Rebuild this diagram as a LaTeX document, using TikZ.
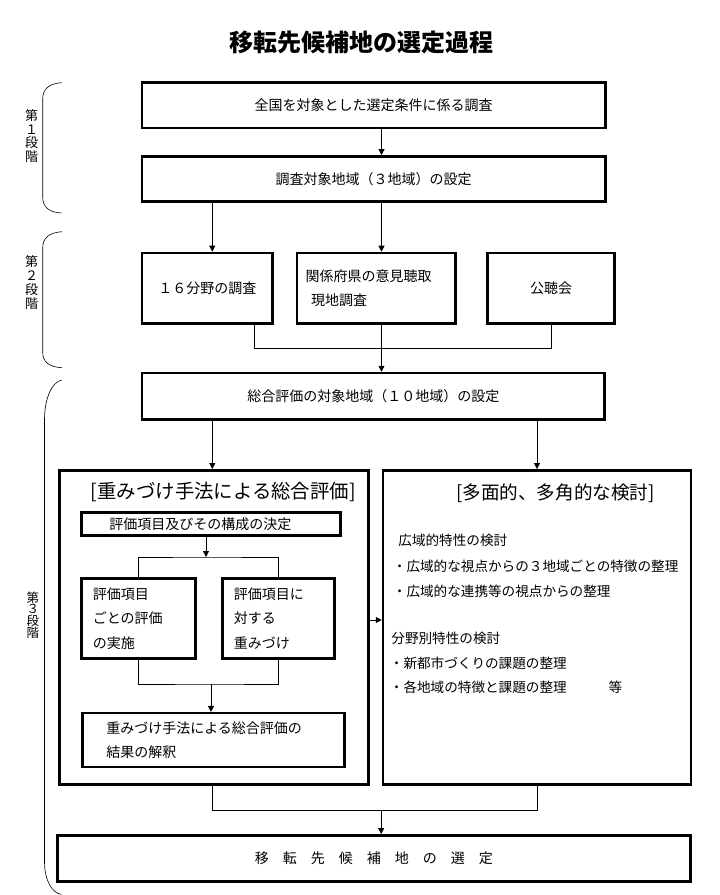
\documentclass[tikz,border=0pt]{standalone}
\usepackage{fontspec}
\setmainfont{Noto Sans CJK JP}
\usetikzlibrary{arrows.meta}
\tikzset{
	box/.style = {draw, line width=2.5pt, inner sep=0pt, align=center, font=\fontsize{14}{14}\selectfont},
	lbox/.style = {box, align=left},
	bigbox/.style = {draw, line width=2.5pt, inner sep=0pt},
	stage/.style = {align=center, inner sep=0pt, font=\fontsize{13}{13.8}\selectfont},
	bracket/.style = {line width=0.6pt},
	item/.style = {anchor=west, inner sep=0pt, font=\fontsize{13.6}{13.6}\selectfont}
}
\begin{document}
\begin{tikzpicture}[x=1pt, y=-1pt, >={Triangle[length=6pt,width=6pt]}, line width=0.8pt]
	\useasboundingbox (0,0) rectangle (720,895);
	
	% title
	\node[font=\fontsize{24}{24}\selectfont\bfseries, inner sep=0pt] (title) at (361.5,42) {移転先候補地の選定過程};
	
	% stage labels with their brackets
	\node[stage] (lab1) at (31.7,136) {第\\１\\段\\階};
	\node[stage] (lab2) at (31.7,282.5) {第\\２\\段\\階};
	\node[stage, font=\fontsize{12.5}{11.8}\selectfont] (lab3) at (33,615) {第\\３\\段\\階};
	\draw[bracket] (61.7,82.7) .. controls (49,83.5) and (42.7,89) .. (42.7,99) -- (42.7,197) .. controls (42.7,207) and (49,212.5) .. (61.7,213);
	\draw[bracket] (62,231.7) .. controls (49,232.5) and (42.7,238) .. (42.7,248) -- (42.7,352) .. controls (42.7,362) and (49,367) .. (62,367.7);
	\draw[bracket] (61.7,380) .. controls (52,382) and (44.5,398) .. (44.5,420) -- (44.5,862) .. controls (44.5,880) and (52,893) .. (61,894.3);
	
	% first stage
	\node[box, minimum width=463.4pt, minimum height=45.7pt] (st1) at (373.7,105.2) {全国を対象とした選定条件に係る調査};
	\node[box, minimum width=463.4pt, minimum height=45pt] (st2) at (373.7,178.8) {調査対象地域（３地域）の設定};
	
	% second stage
	\node[box, minimum width=130.7pt, minimum height=70.7pt] (f16) at (207.3,288.3) {１６分野の調査};
	\node[lbox, text width=141.4pt, inner xsep=8.5pt, minimum height=70.7pt, font=\fontsize{14}{23.3}\selectfont] (pref) at (376.2,288.3) {関係府県の意見聴取\\\hspace{5.5pt}現地調査};
	\node[box, minimum width=127.4pt, minimum height=70.7pt] (pub) at (551,288.3) {公聴会};
	
	% third stage
	\node[box, minimum width=462.7pt, minimum height=46.4pt] (tot) at (373.3,396.2) {総合評価の対象地域（１０地域）の設定};
	\node[bigbox, minimum width=309.4pt, minimum height=314.4pt] (wbox) at (214,627.5) {};
	\node[bigbox, minimum width=308pt, minimum height=314.4pt] (mbox) at (537,627.5) {};
	\node[font=\fontsize{19.4}{19.4}\selectfont, inner sep=0pt] (wtitle) at (223.3,491.7) {[重みづけ手法による総合評価]};
	\node[font=\fontsize{18.6}{18.6}\selectfont, inner sep=0pt] (mtitle) at (555.5,493) {[多面的、多角的な検討]};
	
	% weighting method, inner boxes
	\node[lbox, text width=203.4pt, inner xsep=28pt, minimum height=23.4pt] (dec) at (211,524) {評価項目及びその構成の決定};
	\node[lbox, text width=91.4pt, inner xsep=11.5pt, minimum height=80.4pt, font=\fontsize{14}{24.7}\selectfont] (evA) at (138.5,618.5) {評価項目\\ごとの評価\\の実施};
	\node[lbox, text width=89pt, inner xsep=11.5pt, minimum height=80.4pt, font=\fontsize{14}{24.7}\selectfont] (evB) at (278.4,618.5) {評価項目に\\対する\\重みづけ};
	\node[lbox, text width=214.4pt, inner xsep=24pt, minimum height=53.6pt, font=\fontsize{14}{23.4}\selectfont] (res) at (213.5,740) {重みづけ手法による総合評価の\\結果の解釈};
	
	% many-sided study, items
	\begin{scope}[every node/.style={item}]
		\node (m1) at (398,540.7) {広域的特性の検討};
		\node (m11) at (392.5,566.7) {・広域的な視点からの３地域ごとの特徴の整理};
		\node (m12) at (392.5,591.7) {・広域的な連携等の視点からの整理};
		\node (m2) at (391,638.3) {分野別特性の検討};
		\node (m21) at (389.5,663.3) {・新都市づくりの課題の整理};
		\node (m22) at (389.5,687.7) {・各地域の特徴と課題の整理};
		\node (m23) at (608.2,687.7) {等};
	\end{scope}
	
	% final selection
	\node[box, minimum width=633pt, minimum height=46pt] (fin) at (373.9,858.3) {移　転　先　候　補　地　の　選　定};
	
	% connectors
	\coordinate (ax) at (381.5,0);
	\coordinate (lx) at (212.3,0);
	\coordinate (j2l) at (254.3,348.3);
	\coordinate (j2) at (381.5,348.3);
	\coordinate (jt) at (206,557);
	\coordinate (jb) at (211,684);
	\coordinate (mid) at (0,620);
	\coordinate (jf) at (381.2,810);
	
	\draw[->] (st1.south -| ax) -- (st2.north -| ax);
	\draw[->] (st2.south -| lx) -- (f16.north -| lx);
	\draw[->] (st2.south -| ax) -- (pref.north -| ax);
	\draw (f16.south -| j2l) -- (j2l) -| (pub.south);
	\draw[->] (pref.south -| j2) -- (tot.north -| j2);
	\draw[->] (tot.south -| lx) -- (wbox.north -| lx);
	\draw[->] (tot.south -| mbox.north) -- (mbox.north);
	\draw[->] (dec.south -| jt) -- (jt);
	\draw (evA.north) |- (jt) -| (evB.north);
	\draw (evA.south) |- (jb) -| (evB.south);
	\draw[->] (jb) -- (res.north -| jb);
	\draw[->] (wbox.east |- mid) -- (mbox.west |- mid);
	\draw (wbox.south -| lx) |- (jf) -| (mbox.south);
	\draw[->] (jf) -- (fin.north -| jf);
\end{tikzpicture}
\end{document}
